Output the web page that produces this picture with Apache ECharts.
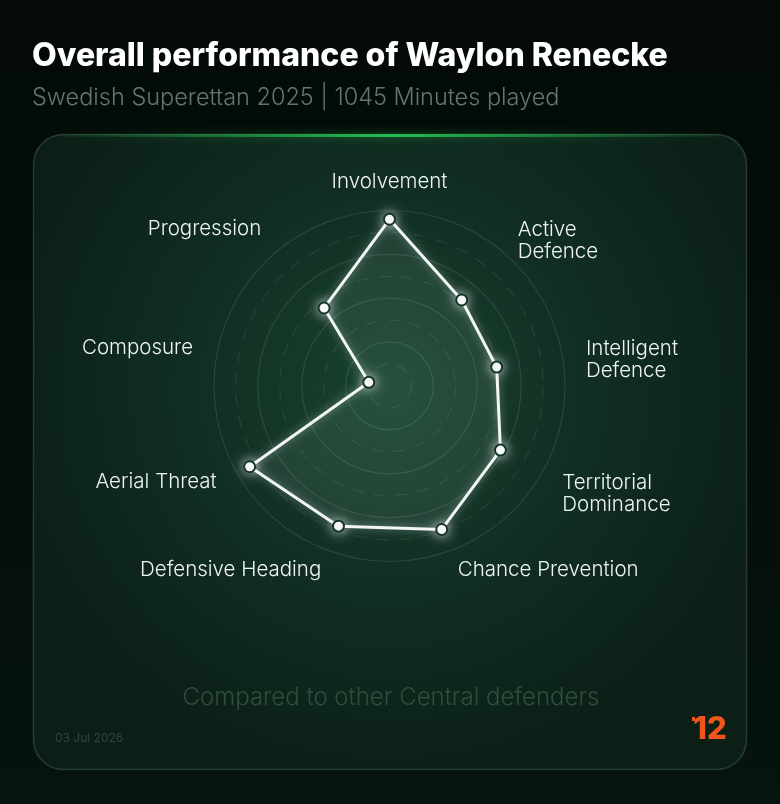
<!DOCTYPE html>
<html>
<head>
<meta charset="utf-8">
<script src="https://cdn.jsdelivr.net/npm/echarts@6/dist/echarts.min.js"></script>
<style>
html,body{margin:0;padding:0;background:#040c09;}
#chart{width:780px;height:804px;}
</style>
</head>
<body>
<div id="chart"></div>
<script>
// Categories listed clockwise starting from the top
const categories = ['Involvement', 'Active Defence', 'Intelligent Defence', 'Territorial Dominance',
  'Chance Prevention', 'Defensive Heading', 'Aerial Threat', 'Composure', 'Progression'];
const labelLines = [['Involvement'], ['Active', 'Defence'], ['Intelligent', 'Defence'], ['Territorial', 'Dominance'],
  ['Chance Prevention'], ['Defensive Heading'], ['Aerial Threat'], ['Composure'], ['Progression']];
const values = [95, 64, 62, 73, 87, 85, 92, 12, 58];
const maxValue = 100;
const titleText = 'Overall performance of Waylon Renecke';
const subtitleText = 'Swedish Superettan 2025 | 1045 Minutes played';
const footerText = 'Compared to other Central defenders';
const dateText = '03 Jul 2026';
const logoText = '12';

// ECharts radar runs counter-clockwise, so reorder (keep first at top)
const order = [0].concat(categories.map((_, i) => i).slice(1).reverse());
const indicators = order.map(i => ({ name: categories[i], max: maxValue }));
const seriesValues = order.map(i => values[i]);

// label placement tweak by side (top / right / bottom / left)
function labelSide(name) {
  const i = categories.indexOf(name);
  if (i === 0) return 'top';
  if (i >= 1 && i <= 3) return 'right';
  if (i === 4 || i === 5) return 'bottom';
  return 'left';
}
function formatName(name) {
  const i = categories.indexOf(name);
  const body = labelLines[i].map(l => '{n|' + l + '}').join('\n');
  const side = labelSide(name);
  if (side === 'top') return '{t|' + labelLines[i][0] + '}';
  if (side === 'right') return '{s16| }\n' + body;
  return body + '\n{s8| }';
}

const CX = 389.5, CY = 386, R = 175.5;
const font = 'Inter, "Noto Sans", sans-serif';

const chart = echarts.init(document.getElementById('chart'), null, { renderer: 'canvas' });
const option = {
  backgroundColor: {
    type: 'linear', x: 0, y: 0, x2: 0, y2: 1,
    colorStops: [{ offset: 0, color: '#030a07' }, { offset: 1, color: '#06130e' }]
  },
  animation: false,
  graphic: [
    {
      type: 'rect', z: -10, silent: true,
      shape: { x: 33.5, y: 134.5, width: 713, height: 635, r: 30 },
      style: {
        fill: {
          type: 'radial', x: 0.5, y: 0.4, r: 0.62,
          colorStops: [
            { offset: 0, color: '#19432f' },
            { offset: 0.45, color: '#123024' },
            { offset: 1, color: '#0b1f16' }
          ]
        },
        stroke: 'rgba(150,190,170,0.22)', lineWidth: 1.5
      }
    },
    {
      type: 'line', z: -9, silent: true,
      shape: { x1: 60, y1: 135.5, x2: 720, y2: 135.5 },
      style: {
        stroke: {
          type: 'linear', x: 0, y: 0, x2: 1, y2: 0,
          colorStops: [
            { offset: 0, color: 'rgba(30,160,70,0.05)' },
            { offset: 0.5, color: 'rgba(35,190,80,1)' },
            { offset: 1, color: 'rgba(30,160,70,0.05)' }
          ]
        },
        lineWidth: 3, shadowBlur: 10, shadowColor: 'rgba(30,200,80,0.6)'
      }
    },
    {
      type: 'text', z: 5, silent: true,
      style: { text: titleText, x: 32, y: 56, align: 'left', verticalAlign: 'middle',
        fill: '#ffffff', fontSize: 32, fontFamily: font, fontWeight: 800 }
    },
    {
      type: 'text', z: 5, silent: true,
      style: { text: subtitleText, x: 32, y: 98, align: 'left', verticalAlign: 'middle',
        fill: '#66746c', fontSize: 23.5, fontFamily: font, fontWeight: 300 }
    },
    {
      type: 'text', z: 5, silent: true,
      style: { text: footerText, x: 391, y: 698, align: 'center', verticalAlign: 'middle',
        fill: '#304d3f', fontSize: 24, fontFamily: font, fontWeight: 300 }
    },
    {
      type: 'text', z: 5, silent: true,
      style: { text: dateText, x: 55, y: 738, align: 'left', verticalAlign: 'middle',
        fill: '#34463d', fontSize: 12, fontFamily: font }
    },
    {
      type: 'text', z: 5, silent: true,
      style: { text: logoText, x: 710, y: 730, align: 'center', verticalAlign: 'middle',
        fill: '#f0561c', fontSize: 31, fontFamily: font, fontWeight: 800 }
    },
    {
      type: 'rect', z: 5, silent: true,
      shape: { x: 692, y: 717, width: 3, height: 4 },
      style: { fill: '#f0561c' }
    }
  ],
  radar: [
    {
      center: [CX, CY], radius: R, startAngle: 90, shape: 'circle',
      splitNumber: 4,
      indicator: indicators,
      nameGap: 24,
      axisName: {
        color: '#eef4f0', fontSize: 20.5, fontFamily: font, fontWeight: 300, lineHeight: 22,
        formatter: formatName,
        rich: {
          n: { color: '#eef4f0', fontSize: 20.5, fontFamily: font, fontWeight: 300, lineHeight: 22 },
          t: { color: '#eef4f0', fontSize: 20.5, fontFamily: font, fontWeight: 300, lineHeight: 10 },
          s16: { fontSize: 2, lineHeight: 16 },
          s8: { fontSize: 2, lineHeight: 8 }
        }
      },
      axisLine: { show: false },
      axisTick: { show: false },
      axisLabel: { show: false },
      splitArea: { show: false },
      splitLine: { lineStyle: { color: 'rgba(190,230,210,0.13)', width: 1.2 } }
    },
    {
      center: [CX, CY], radius: R, startAngle: 90, shape: 'circle',
      splitNumber: 8,
      indicator: indicators.map(d => ({ name: '', max: d.max })),
      axisName: { show: false },
      axisLine: { show: false },
      axisTick: { show: false },
      axisLabel: { show: false },
      splitArea: { show: false },
      splitLine: { lineStyle: { color: ['transparent', 'rgba(190,230,210,0.10)'], type: [12, 10], width: 1.2 } }
    }
  ],
  series: [{
    type: 'radar',
    radarIndex: 0,
    z: 10,
    symbol: 'circle',
    symbolSize: 11,
    data: [{ value: seriesValues, name: 'Waylon Renecke' }],
    lineStyle: { color: '#f4f8f5', width: 3, shadowBlur: 8, shadowColor: 'rgba(255,255,255,0.45)' },
    areaStyle: { color: 'rgba(200,235,215,0.12)' },
    itemStyle: { color: '#f2f6f3', borderColor: '#16352a', borderWidth: 2,
      shadowBlur: 12, shadowColor: 'rgba(255,255,255,0.7)' }
  }]
};
chart.setOption(option);
</script>
</body>
</html>
